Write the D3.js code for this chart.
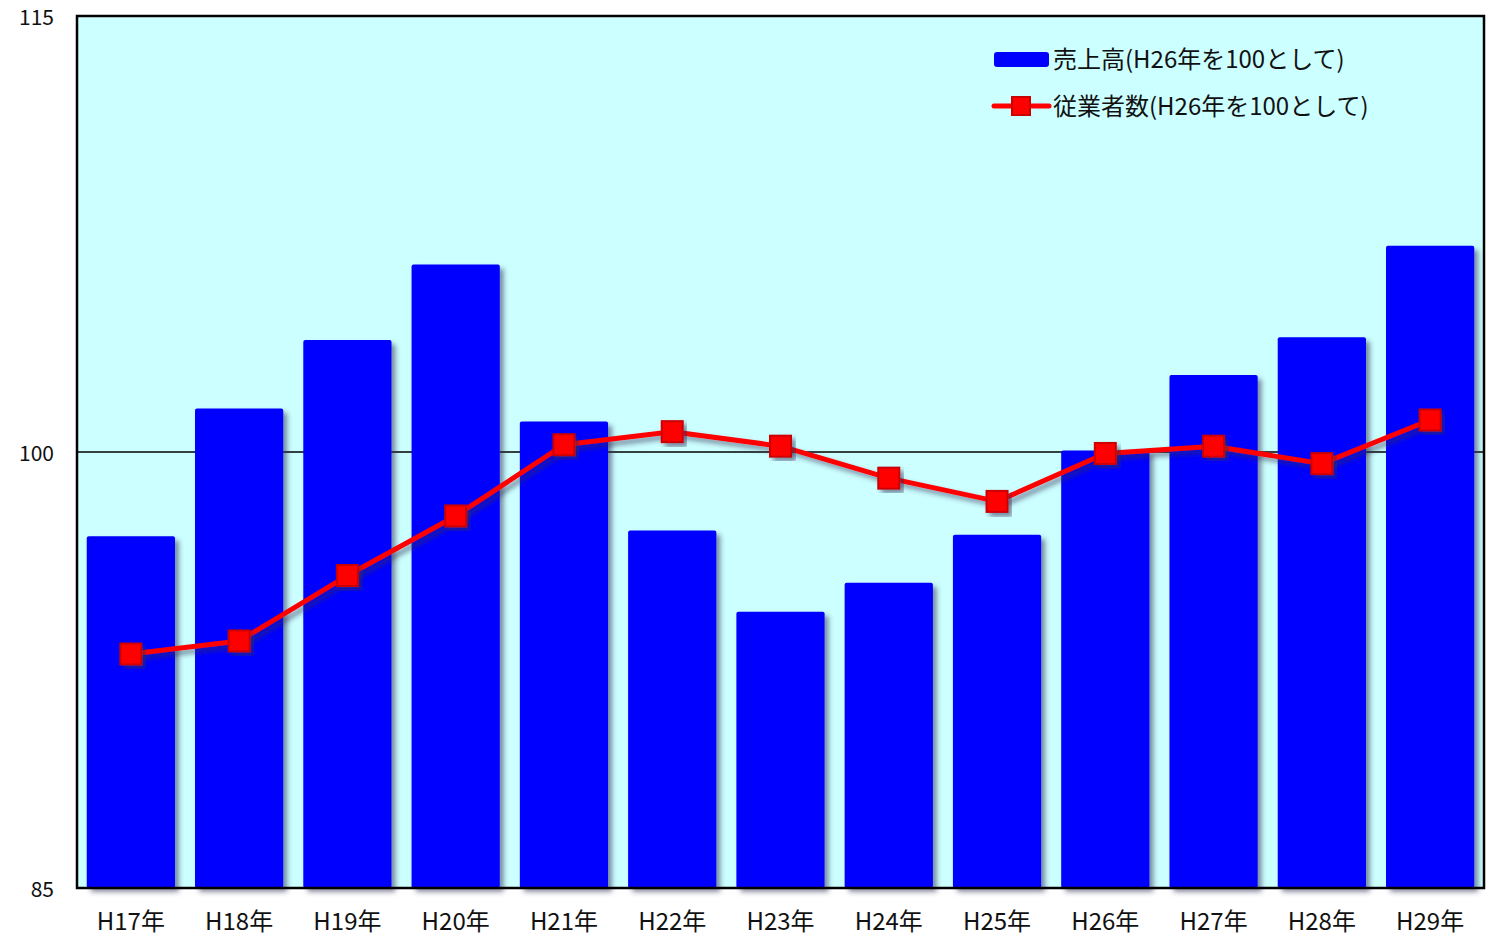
<!DOCTYPE html>
<html>
<head>
<meta charset="utf-8">
<script src="https://cdn.jsdelivr.net/npm/d3@7"></script>
<style>
  body { margin: 0; background: #fff; }
  svg text { font-family: "Noto Sans CJK JP", "Noto Sans", sans-serif; fill: #111; }
</style>
</head>
<body>
<div id="chart"></div>
<script>
var categories = ['H17年','H18年','H19年','H20年','H21年','H22年','H23年','H24年','H25年','H26年','H27年','H28年','H29年'];
var sales      = [97.1, 101.5, 103.85, 106.45, 101.05, 97.3, 94.5, 95.5, 97.15, 100.05, 102.65, 103.95, 107.1];
var employees  = [93.05, 93.5, 95.75, 97.8, 100.25, 100.7, 100.2, 99.1, 98.3, 99.95, 100.2, 99.6, 101.1];
var y_ticks    = [85, 100, 115];
var legend_labels = ['売上高(H26年を100として)', '従業者数(H26年を100として)'];

var W = 1490, H = 942;
var m = { left: 77, right: 6, top: 16, bottom: 54 };
var width  = W - m.left - m.right;
var height = H - m.top - m.bottom;

var svg = d3.select('#chart').append('svg')
  .attr('width', W)
  .attr('height', H);

var defs = svg.append('defs');

var shadow = defs.append('filter')
  .attr('id', 'shadow')
  .attr('x', '-10%').attr('y', '-10%')
  .attr('width', '130%').attr('height', '130%');
shadow.append('feDropShadow')
  .attr('dx', 4).attr('dy', 4)
  .attr('stdDeviation', 2.5)
  .attr('flood-color', '#335')
  .attr('flood-opacity', 0.55);

var gph = svg.append('g')
  .attr('transform', `translate(${ m.left }, ${ m.top })`);

var x = d3.scaleBand()
  .domain(categories)
  .range([0, width])
  .paddingInner(0.185)
  .paddingOuter(0.09);

var y = d3.scaleLinear()
  .domain([85, 115])
  .range([height, 0]);

// plot background
gph.append('rect')
  .attr('width', width)
  .attr('height', height)
  .attr('fill', '#ccffff');

// gridline at 100
gph.append('line')
  .attr('x1', 0).attr('x2', width)
  .attr('y1', y(100)).attr('y2', y(100))
  .attr('stroke', '#000')
  .attr('stroke-width', 1.5);

// bars
gph.selectAll('rect.bar')
  .data(sales)
  .enter()
  .append('rect')
  .attr('class', 'bar')
  .attr('x', (d,i) => x(categories[i]))
  .attr('y', (d) => y(d))
  .attr('width', x.bandwidth())
  .attr('height', (d) => height - y(d))
  .attr('rx', 2)
  .attr('fill', '#0000ff')
  .attr('filter', 'url(#shadow)');

// line
var cx = (i) => x(categories[i]) + x.bandwidth() / 2;

var line = d3.line()
  .x((d,i) => cx(i))
  .y((d) => y(d));

gph.append('path')
  .datum(employees)
  .attr('d', line)
  .attr('fill', 'none')
  .attr('stroke', '#ff0000')
  .attr('stroke-width', 5)
  .attr('stroke-linejoin', 'round')
  .attr('filter', 'url(#shadow)');

var ms = 21;
gph.selectAll('rect.marker')
  .data(employees)
  .enter()
  .append('rect')
  .attr('class', 'marker')
  .attr('x', (d,i) => cx(i) - ms / 2)
  .attr('y', (d) => y(d) - ms / 2)
  .attr('width', ms)
  .attr('height', ms)
  .attr('fill', '#ff0000')
  .attr('stroke', '#cc0000')
  .attr('stroke-width', 2)
  .attr('filter', 'url(#shadow)');

// frame
gph.append('rect')
  .attr('width', width)
  .attr('height', height)
  .attr('fill', 'none')
  .attr('stroke', '#000')
  .attr('stroke-width', 2.5);

// y tick labels
gph.selectAll('text.ytick')
  .data(y_ticks)
  .enter()
  .append('text')
  .attr('class', 'ytick')
  .attr('x', -23)
  .attr('y', (d) => y(d))
  .attr('dy', '0.42em')
  .attr('text-anchor', 'end')
  .attr('font-size', 21)
  .text((d) => d);

// x tick labels
gph.selectAll('text.xtick')
  .data(categories)
  .enter()
  .append('text')
  .attr('class', 'xtick')
  .attr('x', (d) => x(d) + x.bandwidth() / 2)
  .attr('y', height + 33)
  .attr('dy', '0.36em')
  .attr('text-anchor', 'middle')
  .attr('font-size', 24)
  .text((d) => d);

// legend
var lg = svg.append('g').attr('transform', 'translate(994, 0)');

lg.append('rect')
  .attr('x', 0).attr('y', 52)
  .attr('width', 55).attr('height', 15)
  .attr('rx', 3)
  .attr('fill', '#0000ff');

lg.append('text')
  .attr('x', 59).attr('y', 59)
  .attr('dy', '0.36em')
  .attr('font-size', 24)
  .text(legend_labels[0]);

lg.append('line')
  .attr('x1', 0).attr('x2', 55)
  .attr('y1', 106).attr('y2', 106)
  .attr('stroke', '#ff0000')
  .attr('stroke-width', 5)
  .attr('stroke-linecap', 'round');

lg.append('rect')
  .attr('x', 18).attr('y', 97)
  .attr('width', 18).attr('height', 18)
  .attr('fill', '#ff0000')
  .attr('stroke', '#cc0000')
  .attr('stroke-width', 2);

lg.append('text')
  .attr('x', 59).attr('y', 106)
  .attr('dy', '0.36em')
  .attr('font-size', 24)
  .text(legend_labels[1]);
</script>
</body>
</html>
